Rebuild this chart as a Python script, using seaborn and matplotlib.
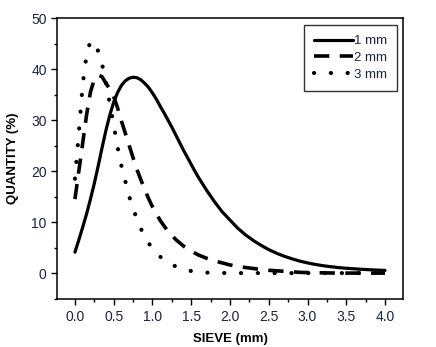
import matplotlib
matplotlib.use("Agg")
import matplotlib.pyplot as plt
import seaborn as sns
import pandas as pd
from matplotlib.ticker import MultipleLocator

# ---- data ----
x_1mm = [0.0, 0.05, 0.1, 0.15, 0.2, 0.25, 0.3, 0.35, 0.4, 0.45, 0.5, 0.55, 0.6, 0.65,
         0.7, 0.75, 0.8, 0.85, 0.9, 0.95, 1.0, 1.05, 1.1, 1.15, 1.2, 1.25, 1.3, 1.35,
         1.4, 1.45, 1.5, 1.55, 1.6, 1.65, 1.7, 1.75, 1.8, 1.85, 1.9, 1.95, 2.0, 2.1,
         2.2, 2.3, 2.4, 2.5, 2.6, 2.7, 2.8, 2.9, 3.0, 3.1, 3.2, 3.3, 3.4, 3.5, 3.6,
         3.7, 3.8, 3.9, 4.0]
y_1mm = [4.1, 6.5, 9.0, 11.6, 14.5, 17.6, 21.0, 24.6, 28.0, 31.0, 33.5, 35.4, 36.8, 37.7,
         38.2, 38.4, 38.3, 37.9, 37.2, 36.4, 35.3, 34.1, 32.7, 31.4, 30.0, 28.6, 27.1,
         25.6, 24.1, 22.7, 21.3, 19.9, 18.6, 17.4, 16.2, 15.1, 14.0, 13.0, 12.0, 11.2,
         10.4, 8.8, 7.5, 6.4, 5.45, 4.6, 3.9, 3.3, 2.8, 2.35, 2.0, 1.7, 1.45, 1.25,
         1.08, 0.95, 0.84, 0.74, 0.66, 0.59, 0.53]

x_2mm = [0.0, 0.05, 0.1, 0.15, 0.2, 0.25, 0.3, 0.35, 0.4, 0.45, 0.5, 0.55, 0.6, 0.65,
         0.7, 0.75, 0.8, 0.85, 0.9, 0.95, 1.0, 1.1, 1.2, 1.3, 1.4, 1.5, 1.6, 1.7,
         1.8, 1.9, 2.0, 2.1, 2.2, 2.3, 2.4, 2.5, 2.6, 2.7, 2.8, 2.9, 3.0, 3.2, 3.4,
         3.6, 3.8, 4.0]
y_2mm = [14.5, 20.0, 25.5, 31.0, 35.5, 38.0, 38.8, 38.5, 37.2, 36.1, 34.6, 32.4, 29.8,
         27.4, 25.0, 22.6, 20.3, 18.3, 16.4, 14.6, 13.0, 10.3, 8.2, 6.6, 5.3, 4.3,
         3.5, 2.9, 2.4, 2.0, 1.6, 1.3, 1.1, 0.9, 0.7, 0.55, 0.45, 0.35, 0.25, 0.15,
         0.1, 0.05, 0.0, 0.0, 0.0, 0.0]

x_3mm = [0.0, 0.05, 0.1, 0.15, 0.2, 0.25, 0.3, 0.35, 0.4, 0.45, 0.5, 0.55, 0.6, 0.7,
         0.8, 0.9, 1.0, 1.1, 1.2, 1.3, 1.4, 1.5, 1.6, 1.7, 1.8, 2.0, 2.5, 3.0, 3.5, 4.0]
y_3mm = [18.5, 27.5, 37.0, 42.8, 45.5, 45.0, 43.5, 41.0, 37.2, 33.2, 29.0, 24.7, 21.0,
         15.0, 10.5, 7.0, 4.8, 3.2, 2.1, 1.3, 0.8, 0.4, 0.2, 0.1, 0.05, 0.0, 0.0,
         0.0, 0.0, 0.0]

series_labels = ["1 mm", "2 mm", "3 mm"]
x_ticks = [0.0, 0.5, 1.0, 1.5, 2.0, 2.5, 3.0, 3.5, 4.0]
y_ticks = [0, 10, 20, 30, 40, 50]

sns.set_theme(style="white")
plt.rcParams["font.family"] = ["Liberation Sans", "DejaVu Sans"]
plt.rcParams["lines.scale_dashes"] = False

fig = plt.figure(figsize=(4.36, 3.47), dpi=100)
ax = fig.add_axes([0.131, 0.138, 0.793, 0.810])

df1 = pd.DataFrame({"x": x_1mm, "y": y_1mm})
df2 = pd.DataFrame({"x": x_2mm, "y": y_2mm})
df3 = pd.DataFrame({"x": x_3mm, "y": y_3mm})

sns.lineplot(data=df1, x="x", y="y", ax=ax, color="black", lw=2.3,
             label=series_labels[0], estimator=None, sort=False)
sns.lineplot(data=df2, x="x", y="y", ax=ax, color="black", lw=2.6,
             dashes=(11, 7.5), label=series_labels[1], estimator=None, sort=False)
sns.lineplot(data=df3, x="x", y="y", ax=ax, color="black", lw=3.0,
             dashes=(0.1, 12), label=series_labels[2], estimator=None, sort=False)
ax.lines[2].set_dash_capstyle("round")
ax.lines[1].set_dash_capstyle("butt")

ax.set_xlim(-0.23, 4.23)
ax.set_ylim(-5.1, 50)
ax.set_xticks(x_ticks)
ax.set_xticklabels([f"{v:.1f}" for v in x_ticks])
ax.set_yticks(y_ticks)
ax.set_yticklabels([str(v) for v in y_ticks])
ax.xaxis.set_minor_locator(MultipleLocator(0.25))
ax.yaxis.set_minor_locator(MultipleLocator(5))

for s in ax.spines.values():
    s.set_color("black")
    s.set_linewidth(1.1)

label_color = "#1c2340"
ax.tick_params(axis="both", which="major", direction="out", length=4, width=1,
               color="black", labelsize=10, labelcolor=label_color,
               bottom=True, left=True, top=False, right=False)
ax.tick_params(axis="both", which="minor", direction="out", length=2.5, width=1,
               color="black", bottom=True, left=True, top=False, right=False)

ax.set_xlabel("SIEVE (mm)", fontsize=9.5, fontweight="bold", color="black", labelpad=7)
ax.set_ylabel("QUANTITY (%)", fontsize=9.5, fontweight="bold", color="black", labelpad=9)

leg = ax.legend(loc="upper right", bbox_to_anchor=(0.983, 0.975), fontsize=9.5,
                frameon=True, fancybox=False, handlelength=2.9, handletextpad=0.1,
                labelspacing=0.35, borderpad=0.75, borderaxespad=0.0)
leg.get_frame().set_edgecolor("black")
leg.get_frame().set_linewidth(1.0)
for t in leg.get_texts():
    t.set_color(label_color)
hl = leg.get_lines()
hl[2].set_dash_capstyle("round")

fig.savefig("out.png", dpi=100, facecolor="white")
